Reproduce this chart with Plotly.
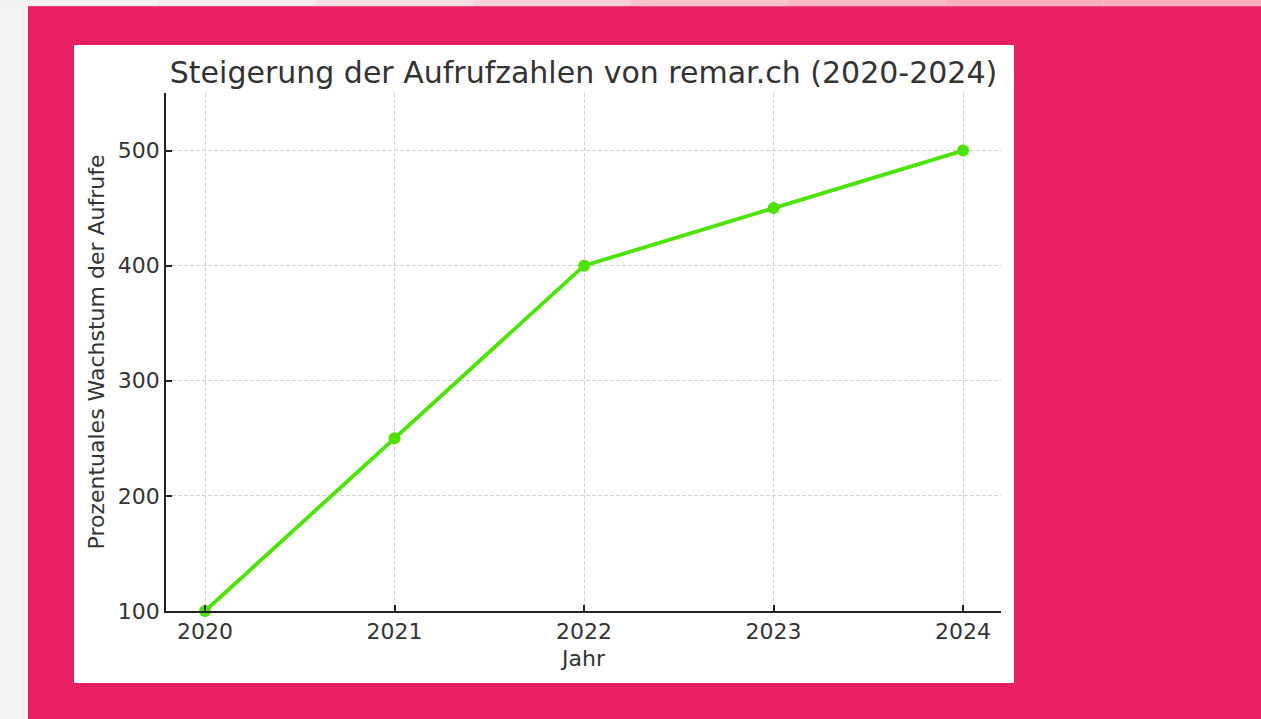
import plotly.graph_objects as go

# Data
years = [2020, 2021, 2022, 2023, 2024]
growth = [100, 250, 400, 450, 500]
x_ticks = [2020, 2021, 2022, 2023, 2024]
y_ticks = [100, 200, 300, 400, 500]

title_text = "Steigerung der Aufrufzahlen von remar.ch (2020-2024)"
x_label = "Jahr"
y_label = "Prozentuales Wachstum der Aufrufe"

W, H = 1261, 719
L, R, T, B = 166, 1001, 93, 611  # plot area in pixels


def px(x):
    return (x - L) / (R - L)


def py(y):
    return (B - y) / (B - T)


fig = go.Figure()
fig.add_trace(go.Scatter(
    x=years, y=growth, mode="lines+markers",
    line=dict(color="#4CE300", width=3.8),
    marker=dict(color="#4CE300", size=12),
    cliponaxis=False, showlegend=False,
))

shapes = []
# top gradient strip (light gray -> pink)
strip_cols = ["#f3f2f2", "#f4eaec", "#f6dee2", "#f8d0d7", "#f9c3cc", "#fab8c3", "#fbafbc", "#fbaebb"]
n = len(strip_cols)
for i, c in enumerate(strip_cols):
    shapes.append(dict(type="rect", xref="paper", yref="paper",
                       x0=px(W * i / n), x1=px(W * (i + 1) / n), y0=py(6), y1=py(0),
                       fillcolor=c, line=dict(width=0), layer="below"))
# pink panel
shapes.append(dict(type="rect", xref="paper", yref="paper",
                   x0=px(28), x1=px(1262), y0=py(720), y1=py(6),
                   fillcolor="#E91E63", line=dict(width=0), layer="below"))
# thin lighter edge at panel top
shapes.append(dict(type="line", xref="paper", yref="paper",
                   x0=px(28), x1=px(1262), y0=py(6.5), y1=py(6.5),
                   line=dict(color="#EE4A7C", width=1), layer="below"))
# white chart card
shapes.append(dict(type="rect", xref="paper", yref="paper",
                   x0=px(74), x1=px(1014), y0=py(683), y1=py(45),
                   fillcolor="#FFFFFF", line=dict(width=0), layer="below"))

font_family = "DejaVu Sans"
txt = "#333333"
grid_col = "#d4d4d4"

fig.update_layout(
    width=W, height=H,
    margin=dict(l=L, r=W - R, t=T, b=H - B, pad=0),
    paper_bgcolor="#f3f3f3",
    plot_bgcolor="rgba(0,0,0,0)",
    shapes=shapes,
    font=dict(family=font_family, color=txt, size=20),
    title=dict(text=title_text, x=(L + R) / 2 / W, xanchor="center",
               y=1 - 72 / H, yanchor="middle",
               font=dict(family=font_family, size=30, color=txt)),
    xaxis=dict(
        range=[2019.794, 2024.2], tickvals=x_ticks, ticktext=[str(v) for v in x_ticks],
        showgrid=True, gridcolor=grid_col, gridwidth=1, griddash="4px,2px",
        showline=True, linecolor="#222222", linewidth=1.7, mirror=False,
        ticks="inside", ticklen=6, tickwidth=1.7, tickcolor="#222222",
        tickfont=dict(family=font_family, size=22, color=txt),
        zeroline=False,
        title=dict(text=x_label, font=dict(family=font_family, size=22, color=txt), standoff=7),
    ),
    yaxis=dict(
        range=[100, 550], tickvals=y_ticks, ticktext=[str(v) for v in y_ticks],
        showgrid=True, gridcolor=grid_col, gridwidth=1, griddash="4px,2px",
        showline=True, linecolor="#222222", linewidth=1.7, mirror=False,
        ticks="inside", ticklen=6, tickwidth=1.7, tickcolor="#222222",
        tickfont=dict(family=font_family, size=22, color=txt),
        zeroline=False,
        title=dict(text=y_label, font=dict(family=font_family, size=22, color=txt), standoff=7),
    ),
)

fig.write_html(
    "out.html",
    config={"displayModeBar": False},
    post_script="document.body.style.margin='0';document.body.style.background='#f3f3f3';",
)
